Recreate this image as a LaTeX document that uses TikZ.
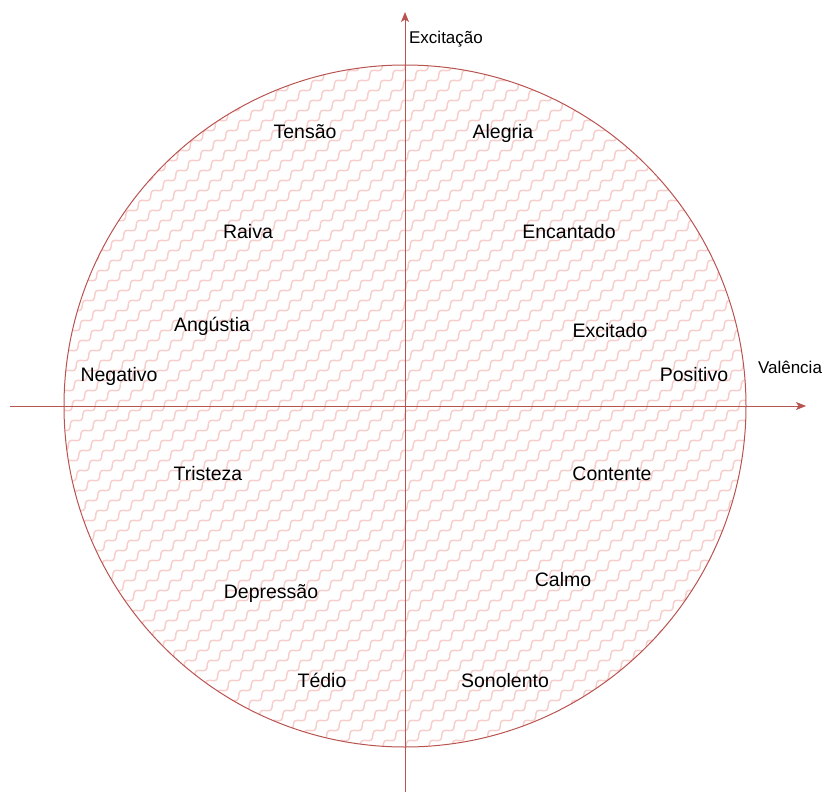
\documentclass[tikz,border=0pt]{standalone}
\usepackage{fontspec}
\setmainfont{Liberation Sans}
\usetikzlibrary{arrows.meta}
\definecolor{EdgeRed}{HTML}{B85450}
\definecolor{FillPink}{HTML}{F8CECC}

\tikzset{
  emotion/.style={anchor=base, font=\fontsize{19.5}{22}\selectfont},
  axislabel/.style={anchor=base, font=\fontsize{17}{20}\selectfont},
  axis/.style={EdgeRed, line width=1pt, -{Stealth[length=10pt,width=8pt,inset=2.5pt]}},
  zigzag/.style={FillPink, line width=1.5pt, rounded corners=3pt, line join=round}
}

\begin{document}
\begin{tikzpicture}[x=1pt,y=-1pt]
  \useasboundingbox (0,0) rectangle (825,792);
  % circle with zig-zag hatching (path picture works from the centre)
  \node[circle, draw=EdgeRed, line width=1pt, minimum size=682pt, inner sep=0pt,
    path picture={
      \foreach \s in {-1219,-1196,...,345}
        \draw[zigzag] (\s,354) \foreach \k in {1,...,72}{ -- ++(11,1) -- ++(1.5,-11)};
    }] (disk) at (405,406) {};
  % axes
  \coordinate (xleft) at (10,406);
  \coordinate (xright) at (806,406);
  \coordinate (ybottom) at (405,792);
  \coordinate (ytop) at (405,12);
  \draw[axis] (xleft) -- (xright);
  \draw[axis] (ybottom) -- (ytop);
  \node[axislabel] (excitacao) at (446,44) {Excitação};
  \node[axislabel] (valencia) at (790,373) {Valência};
  % emotions
  \node[emotion] (tensao) at (305,138) {Tensão};
  \node[emotion] (alegria) at (503,138) {Alegria};
  \node[emotion] (raiva) at (248,238) {Raiva};
  \node[emotion] (encantado) at (569,238) {Encantado};
  \node[emotion] (angustia) at (212,331) {Angústia};
  \node[emotion] (excitado) at (610,337) {Excitado};
  \node[emotion] (negativo) at (119,381) {Negativo};
  \node[emotion] (positivo) at (694,381) {Positivo};
  \node[emotion] (tristeza) at (208,480) {Tristeza};
  \node[emotion] (contente) at (612,480) {Contente};
  \node[emotion] (depressao) at (271,598) {Depressão};
  \node[emotion] (calmo) at (563,586) {Calmo};
  \node[emotion] (tedio) at (322,687) {Tédio};
  \node[emotion] (sonolento) at (505,687) {Sonolento};
\end{tikzpicture}
\end{document}
